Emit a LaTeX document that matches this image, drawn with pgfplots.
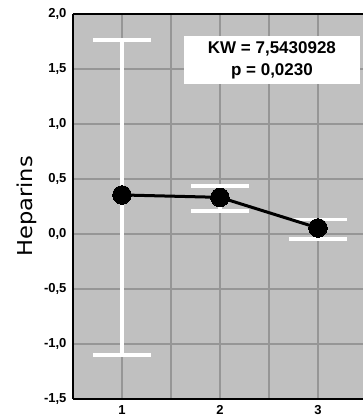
\documentclass[border=0pt]{standalone}
\usepackage{fontspec}
\setmainfont{Liberation Sans}
\newfontfamily\dejavu{DejaVu Sans}
\newcommand\tf{\fontsize{13}{13}\selectfont\bfseries}
\usepackage{pgfplots}
\pgfplotsset{compat=1.18}
\definecolor{bg}{RGB}{192,192,192}
\definecolor{gridc}{RGB}{150,150,150}
\begin{document}
\begin{tikzpicture}
\begin{axis}[
  scale only axis,
  width=290pt, height=385pt,
  xmin=0.5, xmax=3.46,
  ymin=-1.5, ymax=2.0,
  axis x line=box, axis y line=left,
  every outer x axis line/.style={-},
  every outer y axis line/.style={-},
  axis line style={black, line width=1.6pt, -},
  axis background/.style={fill=bg},
  xtick={1,2,3},
  xticklabels={{\tf 1},{\tf 2},{\tf 3}},
  minor xtick={1.5,2.5,3.5},
  ytick={-1.5,-1,-0.5,0,0.5,1,1.5,2.0},
  yticklabels={{\tf -1,5},{\tf -1,0},{\tf -0,5},{\tf 0,0},{\tf 0,5},{\tf 1,0},{\tf 1,5},{\tf 2,0}},
  grid=both,
  major grid style={gridc, line width=1.2pt},
  minor grid style={gridc, line width=1.2pt},
  major tick length=0pt, minor tick length=0pt,
  tick style={draw=none},
  yticklabel style={xshift=-3pt},
  xticklabel style={yshift=-3pt},
  ylabel={\scalebox{1.1}[1]{Heparins}},
  ylabel style={font=\dejavu\fontsize{20.5}{20.5}\selectfont, at={(axis description cs:-0.138,0.5)}, anchor=base},
  clip=false,
]
\addplot[draw=none, mark=none,
  error bars/.cd, y dir=both, y explicit,
  error bar style={white, line width=3.5pt},
  error mark=|,
  error mark options={white, line width=3.5pt, mark size=29pt}]
  coordinates {
  (1,0.355) += (0,1.41) -= (0,1.455)
  (2,0.333) += (0,0.105) -= (0,0.123)
  (3,0.055) += (0,0.075) -= (0,0.10)
  };
\addplot[black, line width=3pt, mark=*, mark size=9.3pt, mark options={black, fill=black, line width=0pt}]
  coordinates {(1,0.355) (2,0.333) (3,0.055)};
\node[fill=white, minimum width=176pt, minimum height=48pt, inner sep=0pt, align=center,
  font=\bfseries\fontsize{17}{22}\selectfont]
  at (rel axis cs:0.686,0.8805) {KW = 7,5430928\\p = 0,0230};
\end{axis}
\pgfresetboundingbox
\path (-73pt,-20pt) rectangle (290pt,399pt);
\end{tikzpicture}
\end{document}
